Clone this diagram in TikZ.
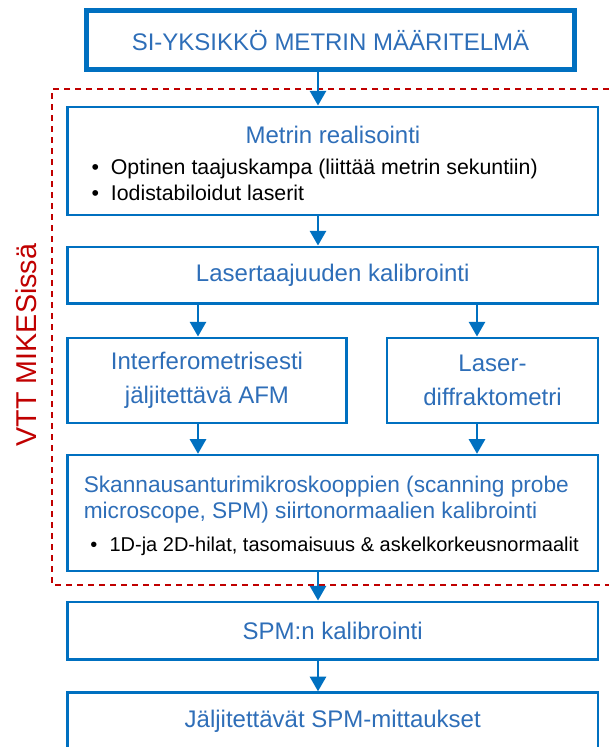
\documentclass[tikz,border=0pt]{standalone}
\usepackage{fontspec}
\setmainfont{Liberation Sans}
\usetikzlibrary{positioning,arrows.meta}
\definecolor{boxblue}{HTML}{0070C0}
\definecolor{txtblue}{HTML}{2E6EB8}
\definecolor{vttred}{HTML}{C00000}
\newcommand{\blt}{\makebox[14.5pt][l]{•}}

\begin{document}
\begin{tikzpicture}[x=0.75pt, y=-0.75pt]
  % 定义样式
  \tikzset{box/.style = {rectangle, draw=boxblue, line width=1.75pt, inner sep=0pt, text=txtblue, align=center, font=\fontsize{18}{21.6}\selectfont}}
  \tikzset{topbox/.style = {box, line width=3.75pt}}
  \tikzset{arr/.style = {draw=boxblue, line width=2pt, -{Triangle[length=11pt, width=12pt]}}}
  \tikzset{bluetext/.style = {text=txtblue, inner sep=0pt, font=\fontsize{18}{19.5}\selectfont}}
  \tikzset{bullets/.style = {align=left, inner sep=0pt, font=\fontsize{16}{19.5}\selectfont}}

  \useasboundingbox (0,0) rectangle (609,747);

  % 虚线框
  \draw[vttred, line width=1.5pt, dash pattern=on 4.5pt off 3.75pt] (609,89.3) -- (52,89.3) -- (52,585.3) -- (609,585.3);
  \node[rotate=90, text=vttred, font=\fontsize{21.5}{26}\selectfont] (vtt) at (26,345) {VTT MIKESissä};

  % 定义框
  \node[topbox, minimum width=366pt, minimum height=43.9pt] (si) at (330.5,40.25) {SI-YKSIKKÖ METRIN MÄÄRITELMÄ};
  \node[box, minimum width=397.9pt, minimum height=81.2pt] (metri) at (332.75,160.85) {};
  \node[box, minimum width=397.9pt, minimum height=42.6pt] (laser) at (332.75,275.1) {Lasertaajuuden kalibrointi};
  \node[box, minimum width=209.25pt, minimum height=63.75pt, font=\fontsize{18}{25}\selectfont] (afm) at (207,380.2) {Interferometrisesti\\jäljitettävä AFM};
  \node[box, minimum width=158.25pt, minimum height=63.75pt, font=\fontsize{18}{25}\selectfont] (diffr) at (492.5,380.2) {Laser-\\diffraktometri};
  \node[box, minimum width=397.9pt, minimum height=87pt] (skann) at (332.75,513) {};
  \node[box, minimum width=397.9pt, minimum height=43.35pt] (spmkal) at (332.75,630.6) {SPM:n kalibrointi};
  \node[box, minimum width=397.9pt, minimum height=43.35pt] (jalj) at (332.75,721.4) {Jäljitettävät SPM-mittaukset};

  % 框内文字
  \node[bluetext] (metri-title) at (333,135) {Metrin realisointi};
  \node[bullets, anchor=west] (metri-list) at (91.3,180) {\blt Optinen taajuskampa (liittää metrin sekuntiin)\\ \blt Iodistabiloidut laserit};
  \node[bluetext, align=left, anchor=west, font=\fontsize{17}{19.5}\selectfont] (skann-title) at (83.5,500) {Skannausanturimikroskooppien (scanning probe\\microscope, SPM) siirtonormaalien kalibrointi};
  \node[bullets, anchor=west, font=\fontsize{15}{19.5}\selectfont] (skann-list) at (90,546) {\blt 1D-ja 2D-hilat, tasomaisuus \& askelkorkeusnormaalit};

  % 定义边
  \coordinate (axis) at (318,0);
  \coordinate (axisL) at (198,0);
  \coordinate (axisR) at (477,0);
  \draw[arr] (si.south -| axis) -- (metri.north -| axis);
  \draw[arr] (metri.south -| axis) -- (laser.north -| axis);
  \draw[arr] (laser.south -| axisL) -- (afm.north -| axisL);
  \draw[arr] (laser.south -| axisR) -- (diffr.north -| axisR);
  \draw[arr] (afm.south -| axisL) -- (skann.north -| axisL);
  \draw[arr] (diffr.south -| axisR) -- (skann.north -| axisR);
  \draw[arr] (skann.south -| axis) -- (spmkal.north -| axis);
  \draw[arr] (spmkal.south -| axis) -- (jalj.north -| axis);
\end{tikzpicture}
\end{document}
